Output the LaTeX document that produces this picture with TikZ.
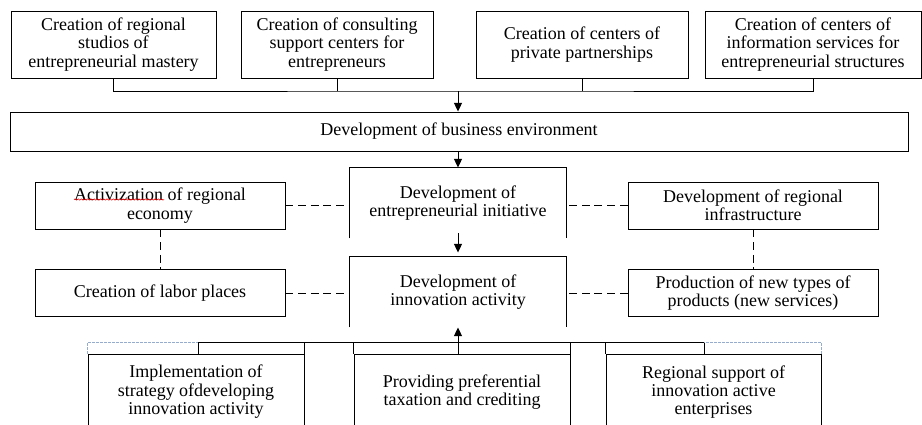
\documentclass[tikz,border=0pt]{standalone}
\usepackage{fontspec}
\setmainfont{Liberation Serif}
\usetikzlibrary{calc}
\usetikzlibrary{arrows.meta}
\usetikzlibrary{decorations.pathmorphing}
\definecolor{guideblue}{RGB}{150,172,205}

\begin{document}
\begin{tikzpicture}[
x=0.75pt, y=-0.75pt,
line width=0.7pt,
boxnode/.style={rectangle, draw, inner sep=1pt, align=center, font=\fontsize{13.5pt}{13.8pt}\selectfont},
topnode/.style={boxnode, minimum height=50.25pt},
sidenode/.style={boxnode, minimum width=187.5pt, minimum height=35.25pt},
mainnode/.style={boxnode, draw=none, minimum width=162pt, minimum height=52.5pt},
basenode/.style={boxnode, minimum height=57pt},
linkline/.style={dash pattern=on 6pt off 3.5pt},
flow/.style={-{Triangle[width=6pt,length=6.5pt]}},
]
\useasboundingbox (0,0) rectangle (922,425);

%Nodes
\node[topnode, minimum width=153.75pt]	(studios)	at (113.5,44.5)	{Creation of regional\\studios of\\entrepreneurial mastery};
\node[topnode, minimum width=144pt]		(consult)	at (337,44.5)	{Creation of consulting\\support centers for\\entrepreneurs};
\node[topnode, minimum width=159pt]		(partner)	at (582,44.5)	{Creation of centers of\\private partnerships};
\node[topnode, minimum width=162pt]		(infoserv)	at (813,44.5)	{Creation of centers of\\information services for\\entrepreneurial structures};
\node[boxnode, minimum width=673.5pt, minimum height=29.25pt]	(env)	at (459,131.5)	{Development of business environment};
\node[mainnode]		(initiative)	at (458,203)	{Development of\\entrepreneurial initiative};
\node[mainnode]		(innov)			at (458,292)	{Development of\\innovation activity};
\node[sidenode]		(activ)			at (160,205.5)	{Activization of regional\\economy};
\node[sidenode]		(labor)			at (160,293)	{Creation of labor places};
\node[sidenode]		(infra)			at (753,205.5)	{Development of regional\\infrastructure};
\node[sidenode]		(products)		at (753,293)	{Production of new types of\\products (new services)};
\node[basenode, minimum width=162pt]		(strategy)	at (196,392)	{Implementation of\\strategy ofdeveloping\\innovation activity};
\node[basenode, minimum width=162pt]		(taxation)	at (462,392)	{Providing preferential\\taxation and crediting};
\node[basenode, minimum width=161.25pt]	(support)	at (713.5,392)	{Regional support of\\innovation active\\enterprises};

%Bus points
\coordinate (topbus) at (458,91);
\coordinate (busL) at (198,342);
\coordinate (busM) at (458,342);
\coordinate (busR) at (704,342);

%Open boxes in the middle
\foreach \n in {initiative,innov}
	\draw (\n.south west) |- (\n.north east) -- (\n.south east);

%Lines
\draw (studios.south) |- (topbus) -| (infoserv.south);
\draw (consult.south) -- (consult.south |- topbus);
\draw (partner.south) -- (partner.south |- topbus);
\draw[flow] (topbus) -- (topbus |- env.north);
\draw[flow] (env.south -| initiative.north) -- (initiative.north);
\draw[flow, shorten <=-3.75pt, shorten >=3pt] (initiative.south) -- (innov.north);

\draw[linkline] (activ) -- (activ -| initiative.west);
\draw[linkline] (labor) -- (labor -| innov.west);
\draw[linkline] (infra) -- (infra -| initiative.east);
\draw[linkline] (products) -- (products -| innov.east);
\draw[linkline] (activ.south) -- (labor.north);
\draw[linkline] (infra.south) -- (products.north);

%Bottom bus
\draw (busL) -- (busR);
\draw (busL) -- (busL |- strategy.north);
\draw (busM) -- (busM |- strategy.north);
\draw (busR) -- (busR |- support.north);
\draw (strategy.north east) -- (strategy.north east |- busL);
\draw (taxation.north west) -- (taxation.north west |- busL);
\draw (taxation.north east) -- (taxation.north east |- busL);
\draw (support.north west) -- (support.north west |- busL);
\draw[flow] (busM) -- (busM |- innov.south);
\draw[guideblue, line width=0.5pt, dash pattern=on 2pt off 1pt] (strategy.north west) |- (busL);
\draw[guideblue, line width=0.5pt, dash pattern=on 2pt off 1pt] (support.north east) |- (busR);

%Squiggle under the first word
\draw[red, line width=0.4pt, decorate, decoration={snake, amplitude=0.5pt, segment length=2.4pt}]
	($(activ.center)+(-86,-6)$) -- ++(90,0);
\end{tikzpicture}
\end{document}
